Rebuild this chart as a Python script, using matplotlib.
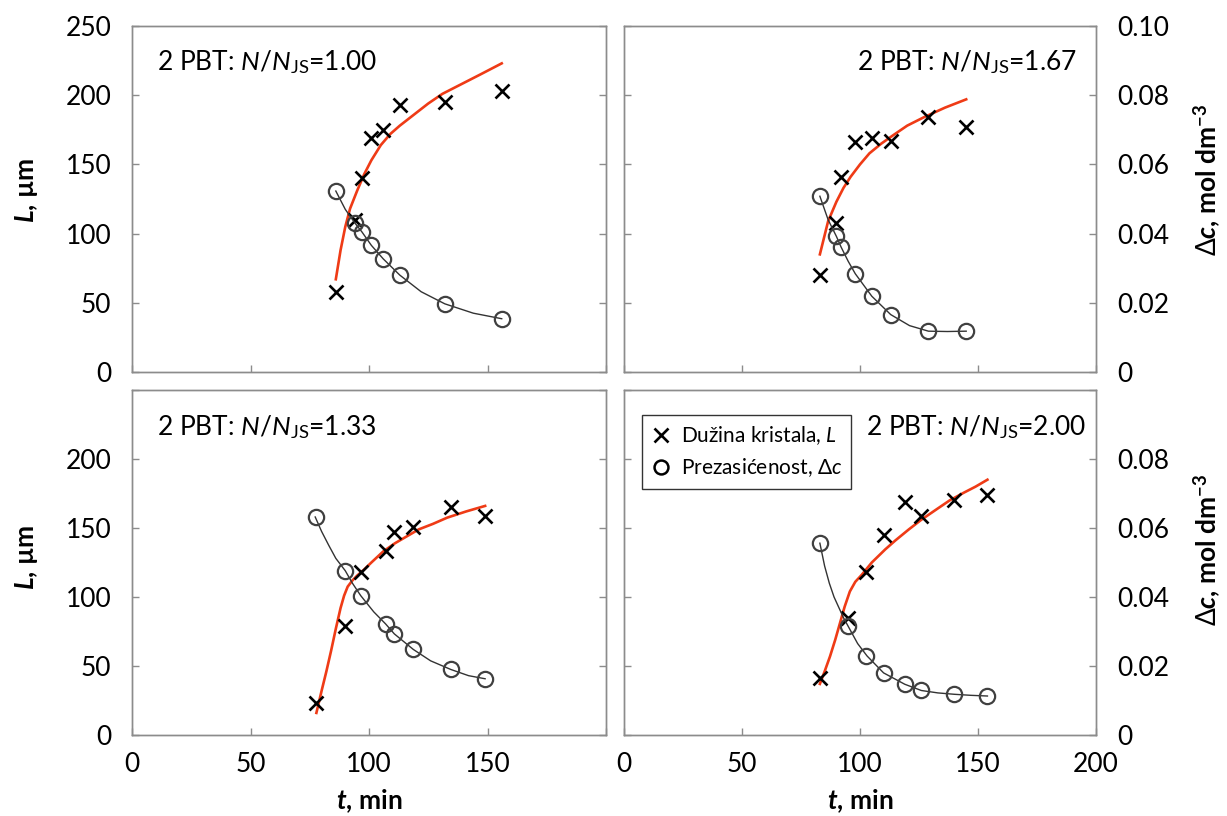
import matplotlib
matplotlib.use("Agg")
import matplotlib.pyplot as plt
import numpy as np
from matplotlib.lines import Line2D

plt.rcParams['font.family'] = ['Lato', 'DejaVu Sans']
plt.rcParams['mathtext.fontset'] = 'custom'
plt.rcParams['mathtext.rm'] = 'Lato'
plt.rcParams['mathtext.it'] = 'Lato:italic'
plt.rcParams['mathtext.bf'] = 'Lato:bold'
plt.rcParams['mathtext.bfit'] = 'Lato:bold:italic'
plt.rcParams['mathtext.fallback'] = 'stixsans'

# --- podaci (ocitano sa slike) ---
# N/NJS = 1.00
t_100 = [86, 94, 97, 101, 106, 113, 132, 156]
L_100 = [58, 110, 140, 169, 175, 193, 195, 203]
dc_100 = [0.0523, 0.0431, 0.0405, 0.0366, 0.0327, 0.0280, 0.0197, 0.0154]
fitL_t_100 = [86, 88, 90, 92, 95, 98, 101, 105, 109, 113, 119, 125, 131, 139, 147, 156]
fitL_100 = [67, 88, 105, 118, 131, 143, 153, 164, 172, 178, 186, 194, 201, 208, 215, 223]
fitc_t_100 = [86, 90, 94, 97, 101, 106, 113, 122, 132, 144, 156]
fitc_100 = [0.0523, 0.0470, 0.0431, 0.0405, 0.0366, 0.0327, 0.0280, 0.0232, 0.0197, 0.0170, 0.0154]

# N/NJS = 1.67
t_167 = [83, 90, 92, 98, 105, 113, 129, 145]
L_167 = [70, 108, 141, 166, 169, 167, 184, 177]
dc_167 = [0.0508, 0.0392, 0.0361, 0.0284, 0.0219, 0.0166, 0.0118, 0.0118]
fitL_t_167 = [83, 86.5, 90, 93, 96, 100, 104, 109, 114, 120, 127, 136, 145]
fitL_167 = [85, 109, 123, 133, 141, 150, 158, 165, 171, 178, 184, 191, 197]
fitc_t_167 = [83, 86.5, 90, 92, 95, 98, 105, 113, 121, 129, 137, 145]
fitc_167 = [0.0508, 0.0440, 0.0392, 0.0361, 0.0320, 0.0284, 0.0219, 0.0166, 0.0134, 0.0118, 0.0117, 0.0118]

# N/NJS = 1.33
t_133 = [77.5, 90, 96.5, 107, 110.5, 118.5, 134.5, 149]
L_133 = [23, 79, 118, 133, 147, 151, 165, 159]
dc_133 = [0.0632, 0.0476, 0.0404, 0.0322, 0.0293, 0.0248, 0.0190, 0.0163]
fitL_t_133 = [77.8, 80, 82, 84, 86, 88, 89.5, 91, 93, 95, 98, 101, 106, 111, 116, 121, 127, 133, 141, 149]
fitL_133 = [16, 32, 46, 61, 77, 92, 101, 107.5, 112, 115.5, 120, 125, 133, 139, 144, 149, 153, 157.5, 162, 166]
fitc_t_133 = [77.3, 80, 83, 86, 90, 93, 96.5, 102, 107, 110.7, 118.7, 126, 134.5, 142, 149]
fitc_133 = [0.0632, 0.0590, 0.0550, 0.0512, 0.0476, 0.0440, 0.0404, 0.0357, 0.0322, 0.0293, 0.0248, 0.0215, 0.0190, 0.0172, 0.0163]

# N/NJS = 2.00
t_200 = [83, 95, 102.5, 110, 119, 126, 140, 154]
L_200 = [41, 85, 118, 145, 169, 159, 170, 174]
dc_200 = [0.0556, 0.0315, 0.0229, 0.0180, 0.0147, 0.0129, 0.0118, 0.0113]
fitL_t_200 = [83, 85, 87.3, 89.5, 91.5, 93.5, 95.7, 98, 100.7, 105, 110.7, 115, 120.7, 126, 132.4, 138, 144, 149, 154]
fitL_200 = [37, 46, 57, 69, 81, 93, 104, 111, 116, 125, 134.5, 141, 149, 156, 163.5, 170, 175.6, 180, 185]
fitc_t_200 = [83, 85, 87, 89, 91, 93, 95, 99, 103, 110, 119, 126, 133, 140, 147, 154]
fitc_200 = [0.0556, 0.0490, 0.0440, 0.0400, 0.0370, 0.0340, 0.0315, 0.0265, 0.0229, 0.0180, 0.0147, 0.0129, 0.0122, 0.0118, 0.0115, 0.0113]

naslovi = ["1.00", "1.67", "1.33", "2.00"]

W, H = 1227, 816
fig = plt.figure(figsize=(W / 100, H / 100), dpi=100)

crvena = '#ef3b16'
siva = '#8c8c8c'


def rect(x0, y0, x1, y1):
    return [x0 / W, 1 - y1 / H, (x1 - x0) / W, (y1 - y0) / H]


def fx(px):
    return px / W


def fy(py):
    return 1 - py / H


def panel(r, t, L, dc, ftL, fL, ftc, fc, levo, dole):
    ax = fig.add_axes(r)
    ax2 = ax.twinx()
    ax.plot(ftL, fL, color=crvena, lw=1.9, zorder=3)
    ax.plot(t, L, 'x', ms=10, mew=1.9, color='black', zorder=4)
    ax2.plot(ftc, fc, color='#333333', lw=1.0)
    ax2.plot(t, dc, 'o', ms=11, mew=1.6, mfc='none', mec='#404040')

    ax.set_xlim(0, 200)
    ax.set_ylim(0, 250)
    ax2.set_ylim(0, 0.10)
    ax.set_xticks([0, 50, 100, 150, 200])
    ax.set_yticks([0, 50, 100, 150, 200, 250])
    ax2.set_yticks([0, 0.02, 0.04, 0.06, 0.08, 0.10])

    xl = ['0', '50', '100', '150', '200']
    if levo:
        xl[-1] = ''
    ax.set_xticklabels(xl)
    yl = ['0', '50', '100', '150', '200', '250']
    cl = ['0', '0.02', '0.04', '0.06', '0.08', '0.10']
    if dole:
        yl[-1] = ''
        cl[-1] = ''
    ax.set_yticklabels(yl)
    ax2.set_yticklabels(cl)

    for a in (ax, ax2):
        for s in a.spines.values():
            s.set_color(siva)
            s.set_linewidth(1.0)
    ax.tick_params(axis='both', direction='in', length=5, width=1, color=siva,
                   labelsize=19, top=False, right=False)
    ax.tick_params(axis='y', pad=15, labelleft=levo)
    ax.tick_params(axis='x', pad=12, labelbottom=dole)
    ax2.tick_params(axis='y', direction='in', length=5, width=1, color=siva,
                    labelsize=19, pad=15, labelright=not levo)
    return ax, ax2


ax_a, _ = panel(rect(132, 26, 606, 372), t_100, L_100, dc_100,
                fitL_t_100, fitL_100, fitc_t_100, fitc_100, True, False)
ax_b, _ = panel(rect(624, 26, 1096, 372), t_167, L_167, dc_167,
                fitL_t_167, fitL_167, fitc_t_167, fitc_167, False, False)
ax_c, _ = panel(rect(132, 390, 606, 735), t_133, L_133, dc_133,
                fitL_t_133, fitL_133, fitc_t_133, fitc_133, True, True)
ax_d, _ = panel(rect(624, 390, 1096, 735), t_200, L_200, dc_200,
                fitL_t_200, fitL_200, fitc_t_200, fitc_200, False, True)

# natpisi u panelima
tekst = r"2 PBT: $N$/$N_{\mathrm{JS}}$=%s"
fig.text(fx(157), fy(62), tekst % naslovi[0], fontsize=19, ha='left', va='center')
fig.text(fx(1077), fy(62), tekst % naslovi[1], fontsize=19, ha='right', va='center')
fig.text(fx(157), fy(427), tekst % naslovi[2], fontsize=19, ha='left', va='center')
fig.text(fx(1086), fy(427), tekst % naslovi[3], fontsize=19, ha='right', va='center')

# nazivi osa
for yc in (190, 557):
    fig.text(fx(26), fy(yc), "$\\mathbfit{L}$, \u00b5m", rotation=90, fontsize=19,
             fontweight='bold', ha='center', va='center')
for yc in (180, 550):
    fig.text(fx(1207), fy(yc), r"$\Delta\mathbfit{c}$, mol dm$^{\mathregular{-3}}$",
             rotation=90, fontsize=19, fontweight='bold', ha='center', va='center')
for xc in (369, 860):
    fig.text(fx(xc), fy(801), r"$\mathbfit{t}$, min", fontsize=19,
             fontweight='bold', ha='center', va='center')

# legenda
h1 = Line2D([], [], ls='none', marker='x', ms=10, mew=1.9, color='black')
h2 = Line2D([], [], ls='none', marker='o', ms=10, mew=1.8, mfc='none', mec='black')
leg = fig.legend([h1, h2], ["Du\u017eina kristala, $L$", "Prezasi\u0107enost, $\\Delta c$"],
                 loc='upper left', bbox_to_anchor=(fx(642), fy(415)),
                 bbox_transform=fig.transFigure, fontsize=15, frameon=True,
                 fancybox=False, edgecolor='black', handlelength=0.9,
                 handletextpad=0.5, borderpad=0.45, labelspacing=0.45,
                 borderaxespad=0)
leg.get_frame().set_linewidth(1.0)

fig.savefig("out.png", dpi=100)
